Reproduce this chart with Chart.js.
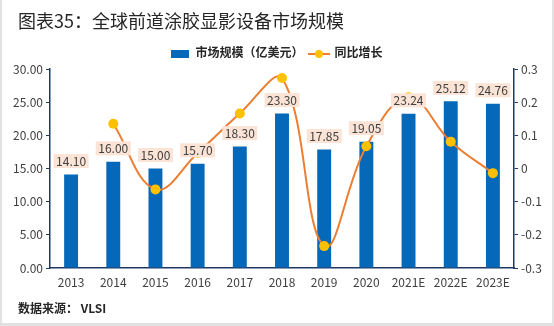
<!DOCTYPE html>
<html>
<head>
<meta charset="utf-8">
<script src="https://cdn.jsdelivr.net/npm/chart.js@4/dist/chart.umd.min.js"></script>
<style>
  html, body { margin: 0; padding: 0; background: #fff; }
  #wrap { position: relative; width: 554px; height: 326px; overflow: hidden; background: #fff; }
  #frame { position: absolute; left: 0; top: 0; width: 550px; height: 323px; border-left: 2px solid #e2e2e2; border-right: 2px solid #e2e2e2; border-bottom: 3px solid #e2e2e2; pointer-events: none; }
  canvas { position: absolute; left: 0; top: 0; }
  #title { position: absolute; left: 18px; top: 7px; font-family: "Noto Sans CJK SC", sans-serif; font-size: 18px; color: #262626; white-space: nowrap; }
  #legend { position: absolute; left: 0; width: 554px; top: 41px; text-align: center; font-family: "Noto Sans CJK SC", sans-serif; font-weight: bold; font-size: 12px; color: #262626; white-space: nowrap; }
  #legend span.item { display: inline-block; vertical-align: middle; }
  .box { display: inline-block; width: 18px; height: 8px; background: #0568B8; vertical-align: middle; margin-right: 6px; }
  .ln { display: inline-block; position: relative; width: 22px; height: 10px; vertical-align: middle; margin: 0 5px 0 4px; }
  .ln:before { content: ""; position: absolute; left: 0; right: 0; top: 4px; height: 2px; background: #ED7D31; }
  .ln:after { content: ""; position: absolute; left: 7px; top: 1px; width: 8px; height: 8px; border-radius: 50%; background: #FFC000; }
  #footer { position: absolute; left: 18px; top: 299px; font-family: "Noto Sans CJK SC", sans-serif; font-weight: bold; font-size: 12px; color: #262626; white-space: nowrap; }
</style>
</head>
<body>
<div id="wrap">
  <canvas id="c" width="554" height="326"></canvas>
  <div id="title">图表35：全球前道涂胶显影设备市场规模</div>
  <div id="legend"><span class="item"><span class="box"></span>市场规模（亿美元）</span><span class="item"><span class="ln"></span>同比增长</span></div>
  <div id="footer">数据来源： VLSI</div>
  <div id="frame"></div>
</div>
<script>
const categories = ["2013","2014","2015","2016","2017","2018","2019","2020","2021E","2022E","2023E"];
const marketSize = [14.10, 16.00, 15.00, 15.70, 18.30, 23.30, 17.85, 19.05, 23.24, 25.12, 24.76];
const growthRate = [null, 0.135, -0.063, 0.047, 0.166, 0.273, -0.234, 0.067, 0.215, 0.081, -0.014];
const marketLabels = ["14.10","16.00","15.00","15.70","18.30","23.30","17.85","19.05","23.24","25.12","24.76"];

const AXIS = "#203864";
const TICK = "#404040";
const FONT = "'Noto Sans CJK SC', 'Noto Sans', sans-serif";

const labelPlugin = {
  id: 'barLabels',
  afterDatasetsDraw(chart) {
    const ctx = chart.ctx;
    const meta = chart.getDatasetMeta(1);
    ctx.save();
    ctx.font = "12px " + FONT;
    ctx.textAlign = "center";
    ctx.textBaseline = "middle";
    meta.data.forEach((bar, i) => {
      const txt = marketLabels[i];
      const cx = bar.x;
      const cy = bar.y - 13.5;
      const w = ctx.measureText(txt).width + 5;
      const h = 14;
      ctx.fillStyle = "#FBE3D6";
      ctx.fillRect(cx - w / 2, cy - h / 2, w, h);
      ctx.fillStyle = TICK;
      ctx.fillText(txt, cx, cy + 0.5);
    });
    ctx.restore();
  }
};

new Chart(document.getElementById('c'), {
  data: {
    labels: categories,
    datasets: [
      {
        type: 'line',
        label: '同比增长',
        data: growthRate,
        yAxisID: 'y1',
        borderColor: '#ED7D31',
        borderWidth: 2,
        tension: 0.4,
        pointRadius: 5,
        pointBackgroundColor: '#FFC000',
        pointBorderColor: '#FFC000',
        pointBorderWidth: 0,
        spanGaps: true,
        order: 1
      },
      {
        type: 'bar',
        label: '市场规模（亿美元）',
        data: marketSize,
        yAxisID: 'y',
        backgroundColor: '#0568B8',
        barPercentage: 0.55,
        categoryPercentage: 0.6,
        order: 2
      }
    ]
  },
  options: {
    responsive: false,
    animation: false,
    devicePixelRatio: 1,
    layout: { padding: { top: 69, bottom: 0, left: 0, right: 0 } },
    plugins: { legend: { display: false }, tooltip: { enabled: false } },
    scales: {
      x: {
        offset: true,
        grid: { display: false, drawTicks: false },
        border: { color: AXIS, width: 1.5 },
        ticks: { color: TICK, font: { family: FONT, size: 12 }, padding: 7, maxRotation: 0, autoSkip: false },
        afterFit(s) { s.height = 58; }
      },
      y: {
        position: 'left',
        min: 0, max: 30,
        grid: { drawOnChartArea: false, drawTicks: true, tickLength: 4, color: AXIS },
        border: { color: AXIS, width: 1.5 },
        ticks: { stepSize: 5, color: TICK, font: { family: FONT, size: 12 }, padding: 3, callback: v => v.toFixed(2) },
        afterFit(s) { s.width = 50; }
      },
      y1: {
        position: 'right',
        min: -0.3, max: 0.3,
        grid: { drawOnChartArea: false, drawTicks: true, tickLength: 4, color: AXIS },
        border: { color: AXIS, width: 1.5 },
        ticks: { stepSize: 0.1, color: TICK, font: { family: FONT, size: 12 }, padding: 3,
          callback: v => { const r = Math.round(v * 10) / 10; return r === 0 ? "0" : String(r); } },
        afterFit(s) { s.width = 40; }
      }
    }
  },
  plugins: [labelPlugin]
});
</script>
</body>
</html>
